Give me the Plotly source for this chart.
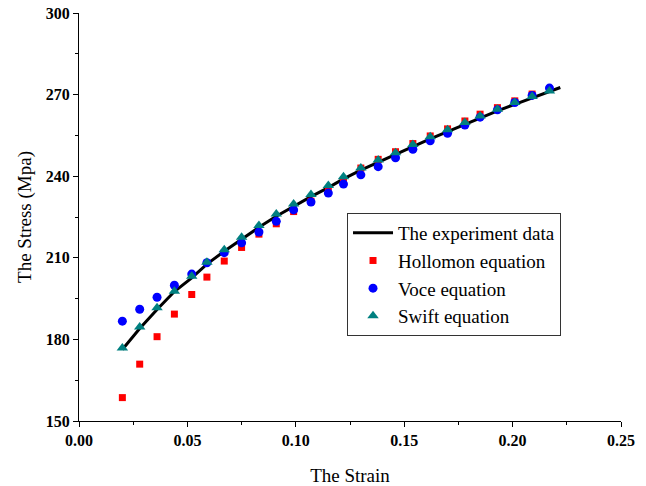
import plotly.graph_objects as go

strain = [0.020, 0.028, 0.036, 0.044, 0.052, 0.059, 0.067, 0.075, 0.083, 0.091,
          0.099, 0.107, 0.115, 0.122, 0.130, 0.138, 0.146, 0.154, 0.162, 0.170,
          0.178, 0.185, 0.193, 0.201, 0.209, 0.217]

exp_strain = [0.020, 0.028, 0.036, 0.044, 0.052, 0.059, 0.067, 0.075, 0.083, 0.091,
              0.099, 0.107, 0.115, 0.122, 0.130, 0.138, 0.146, 0.154, 0.162, 0.170,
              0.178, 0.185, 0.193, 0.201, 0.209, 0.217, 0.222]
exp_stress = [176.3, 184.0, 191.0, 197.6, 202.6, 207.7, 212.4, 216.9, 221.2, 225.3,
              229.0, 232.5, 235.8, 239.0, 242.2, 245.2, 248.0, 250.9, 253.7, 256.4,
              259.0, 261.5, 264.0, 266.4, 268.8, 271.2, 272.6]

hollomon = [158.6, 170.9, 181.0, 189.3, 196.5, 202.9, 208.8, 213.8, 218.7, 222.5,
            227.0, 230.8, 234.6, 238.6, 243.0, 246.2, 249.0, 252.0, 254.8, 257.4,
            260.3, 262.8, 265.2, 267.7, 270.2, 272.0]
voce = [186.7, 191.1, 195.5, 199.9, 204.0, 208.2, 211.9, 215.5, 219.5, 223.4,
        227.6, 230.5, 233.8, 237.1, 240.5, 243.5, 246.8, 249.9, 253.0, 255.8,
        258.8, 261.7, 264.4, 267.1, 269.7, 272.4]
swift = [176.8, 184.6, 191.6, 197.7, 203.2, 208.4, 213.0, 217.6, 221.9, 226.1,
         229.8, 233.3, 236.6, 239.8, 243.0, 246.0, 248.6, 251.7, 254.5, 257.1,
         259.7, 262.1, 264.6, 267.1, 269.3, 271.3]

x_ticks = [0.00, 0.05, 0.10, 0.15, 0.20, 0.25]
x_ticklabels = ["0.00", "0.05", "0.10", "0.15", "0.20", "0.25"]
y_ticks = [150, 180, 210, 240, 270, 300]

font_family = "Liberation Serif"

fig = go.Figure()
fig.add_trace(go.Scatter(x=exp_strain, y=exp_stress, mode="lines",
                         name="The experiment data",
                         line=dict(color="black", width=3)))
fig.add_trace(go.Scatter(x=strain, y=hollomon, mode="markers",
                         name="Hollomon equation",
                         marker=dict(symbol="square", size=7, color="#ff0000")))
fig.add_trace(go.Scatter(x=strain, y=voce, mode="markers",
                         name="Voce equation",
                         marker=dict(symbol="circle", size=9, color="#0000ff")))
fig.add_trace(go.Scatter(x=strain, y=swift, mode="markers",
                         name="Swift equation",
                         marker=dict(symbol="triangle-up", size=10, color="#008080")))

axis_common = dict(
    showline=True, linecolor="black", linewidth=1.3, mirror=False,
    showgrid=False, zeroline=False, automargin=False,
    ticks="outside", ticklen=5, tickwidth=1.3, tickcolor="black",
    tickfont=dict(family=font_family, size=16, color="black", weight="bold"),
)

fig.update_xaxes(range=[0, 0.25], tickvals=x_ticks, ticktext=x_ticklabels,
                 minor=dict(ticks="outside", ticklen=3, tickwidth=1.3,
                            tickcolor="black", dtick=0.025, tick0=0),
                 title=dict(text="The Strain",
                            font=dict(family=font_family, size=19, color="black"),
                            standoff=21),
                 **axis_common)
fig.update_yaxes(range=[150, 300], tickvals=y_ticks,
                 minor=dict(ticks="outside", ticklen=3, tickwidth=1.3,
                            tickcolor="black", dtick=15, tick0=150),
                 title=dict(text="The Stress (Mpa)",
                            font=dict(family=font_family, size=19, color="black"),
                            standoff=9),
                 **axis_common)

fig.update_layout(
    width=646, height=486,
    margin=dict(l=79, r=25, t=13, b=65),
    paper_bgcolor="white", plot_bgcolor="white",
    showlegend=True,
    legend=dict(x=0.4945, y=0.51, xanchor="left", yanchor="top",
                bgcolor="white", bordercolor="#333333", borderwidth=1,
                font=dict(family=font_family, size=19, color="black"),
                tracegroupgap=0, itemwidth=40),
)

# remove the page's default 8px body margin so the figure fills the window exactly
fig.write_html("out.html",
               config={"displayModeBar": False},
               post_script="document.body.style.margin='0';document.body.style.overflow='hidden';")
